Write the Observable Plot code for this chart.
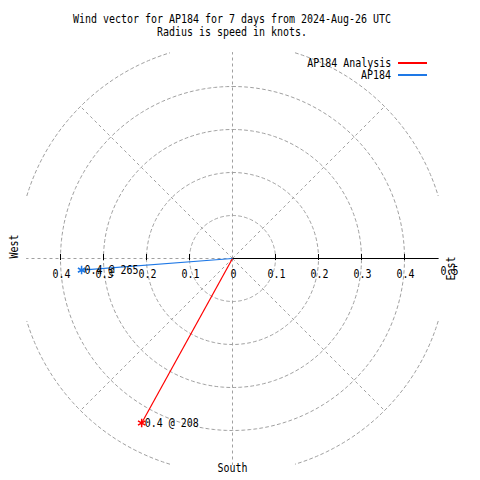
<!DOCTYPE html>
<html>
<head>
<meta charset="utf-8">
<script src="https://cdn.jsdelivr.net/npm/d3@7"></script>
<script src="https://cdn.jsdelivr.net/npm/@observablehq/plot@0.6"></script>
<style>
  body { margin: 0; background: #fff; }
  #wrap { position: relative; width: 480px; height: 480px; overflow: hidden; background: #fff;
          font-family: "DejaVu Sans Mono", monospace; font-size: 12px; color: #000; }
  #title { width: 464px; height: 40px; padding-top: 13px; box-sizing: border-box; text-align: center;
           line-height: 13px; white-space: pre; transform: scaleX(0.8306); transform-origin: 232px 0; }
  .lg-text { position: absolute; right: 89px; line-height: 11px; height: 11px; white-space: pre;
             transform: scaleX(0.8306); transform-origin: right center; }
  .lg-line { position: absolute; left: 398px; width: 29px; height: 2px; }
  #chart svg { display: block; }
</style>
</head>
<body>
<div id="wrap">
  <div id="title"></div>
  <div id="chart"></div>
  <div id="legend"></div>
</div>
<script>
// ---- Data ----
const titleLines = ["Wind vector for AP184 for 7 days from 2024-Aug-26 UTC", "Radius is speed in knots."];
const seriesNames = ["AP184 Analysis", "AP184"];
const seriesColors = ["#ff0000", "#1e78e6"];
const speeds = [0.437, 0.352];          // knots
const directions = [208.9, 265.6];      // degrees, clockwise from north
const ringRadii = [0.1, 0.2, 0.3, 0.4, 0.5];
const spokeAngles = [0, 45, 90, 135, 180, 225, 270, 315];
const westTicks = [-0.4, -0.3, -0.2, -0.1];
const westTickLabels = ["0.4", "0.3", "0.2", "0.1"];
const eastTicks = [0, 0.1, 0.2, 0.3, 0.4];
const eastTickLabels = ["0", "0.1", "0.2", "0.3", "0.4"];
const edgeTicks = [0.5];
const edgeTickLabels = ["0.5"];
const tickMarks = [-0.4, -0.3, -0.2, -0.1, 0.1, 0.2, 0.3, 0.4];

// ---- Layout ----
const W = 480, H = 440;
const cx = 232, cy = 218, pxPerKnot = 430;
const clipHalf = 0.48;

document.getElementById("title").textContent = titleLines.join("\n");

const toRad = d => d * Math.PI / 180;

// ring points (clipped to a square)
const ringPts = [];
for (const r of ringRadii) {
  for (let a = 0; a <= 360; a += 1) {
    let x = r * Math.sin(toRad(a)), y = r * Math.cos(toRad(a));
    if (Math.abs(x) > clipHalf + 1e-9 || Math.abs(y) > clipHalf + 1e-9) { x = NaN; y = NaN; }
    ringPts.push({r, x, y});
  }
}
const spokes = spokeAngles.map(a => {
  const s = Math.sin(toRad(a)), c = Math.cos(toRad(a));
  const len = Math.min(0.5, clipHalf / Math.max(Math.abs(s), Math.abs(c)));
  return {x: len * s, y: len * c};
});

const vectors = seriesNames.map((name, i) => {
  const rad = toRad(directions[i]);
  return {
    name, color: seriesColors[i],
    x: speeds[i] * Math.sin(rad), y: speeds[i] * Math.cos(rad),
    label: `${speeds[i].toFixed(1)} @ ${Math.floor(directions[i])}`
  };
});

const grid = {stroke: "#a0a0a0", strokeDasharray: "3,3", strokeWidth: 1};

const svg = Plot.plot({
  width: W, height: H, margin: 0,
  style: {fontFamily: "DejaVu Sans Mono", fontSize: "12px", background: "white", color: "black"},
  x: {domain: [-cx / pxPerKnot, (W - cx) / pxPerKnot], axis: null},
  y: {domain: [-(H - cy) / pxPerKnot, cy / pxPerKnot], axis: null},
  color: {type: "identity"},
  marks: [
    Plot.line(ringPts, {x: "x", y: "y", z: "r", ...grid}),
    Plot.link(spokes, {x1: () => 0, y1: () => 0, x2: "x", y2: "y", ...grid}),
    Plot.ruleY([0], {x1: 0, x2: clipHalf, stroke: "black", strokeWidth: 1}),
    Plot.ruleX(tickMarks, {x: d => d, y1: 0, y2: 0, insetTop: -4, insetBottom: -2, stroke: "black"}),
    Plot.text(westTicks, {x: d => d, y: 0, text: (d, i) => westTickLabels[i], dy: 16, dx: 1, fill: "black"}),
    Plot.text(eastTicks, {x: d => d, y: 0, text: (d, i) => eastTickLabels[i], dy: 16, dx: 1, fill: "black"}),
    Plot.text(edgeTicks, {x: d => d, y: 0, text: (d, i) => edgeTickLabels[i], dy: 13, dx: 2, fill: "black"}),
    Plot.text(["West"], {y: () => 0, frameAnchor: "left", dx: 14, rotate: -90, fill: "black"}),
    Plot.text(["East"], {y: () => 0, frameAnchor: "right", dx: -29, dy: -2, rotate: -90, fill: "black"}),
    Plot.text(["South"], {x: () => 0, frameAnchor: "bottom", dy: -9, fill: "black"}),
    Plot.link(vectors, {x1: () => 0, y1: () => 0, x2: "x", y2: "y", stroke: "color", strokeWidth: 1.2}),
    Plot.dot(vectors, {x: "x", y: "y", symbol: "asterisk", r: 4, stroke: "color", strokeWidth: 1.5}),
    Plot.text(vectors, {x: "x", y: "y", text: "label", textAnchor: "start", dx: 3, fill: "black"})
  ]
});

d3.select(svg).selectAll("text").each(function () {
  const n = this.textContent.length;
  if (n > 0) {
    this.setAttribute("textLength", n * 6);
    this.setAttribute("lengthAdjust", "spacingAndGlyphs");
  }
});
document.getElementById("chart").appendChild(svg);

// ---- Legend ----
const legendRowsY = [63, 75];
const legend = document.getElementById("legend");
seriesNames.forEach((name, i) => {
  const t = document.createElement("div");
  t.className = "lg-text";
  t.style.top = (legendRowsY[i] - 5.5) + "px";
  t.textContent = name;
  legend.appendChild(t);
  const l = document.createElement("div");
  l.className = "lg-line";
  l.style.top = (legendRowsY[i] - 1) + "px";
  l.style.backgroundColor = seriesColors[i];
  legend.appendChild(l);
});
</script>
</body>
</html>
